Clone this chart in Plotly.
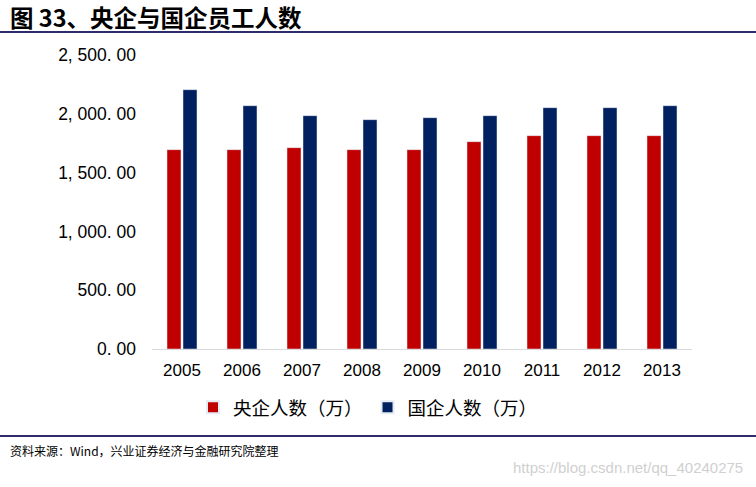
import plotly.graph_objects as go

years = ["2005", "2006", "2007", "2008", "2009", "2010", "2011", "2012", "2013"]
central_soe = [1695, 1695, 1712, 1695, 1695, 1763, 1814, 1814, 1814]
state_soe = [2205, 2069, 1984, 1950, 1967, 1984, 2052, 2052, 2069]
series_names = ["央企人数（万）", "国企人数（万）"]
ytick_vals = [0, 500, 1000, 1500, 2000, 2500]
ytick_text = ["0. 00", "500. 00", "1, 000. 00", "1, 500. 00", "2, 000. 00", "2, 500. 00"]

RED = "#C00000"
NAVY = "#002060"
LINE = "#2E2C6B"
CJK = "Noto Sans CJK SC"
LAT = "Liberation Sans"

fig = go.Figure()
fig.add_trace(go.Bar(x=years, y=central_soe, name=series_names[0], marker_color=RED))
fig.add_trace(go.Bar(x=years, y=state_soe, name=series_names[1], marker_color=NAVY))

fig.update_layout(
    width=756, height=487,
    margin=dict(l=152, r=64, t=55, b=138, autoexpand=False),
    paper_bgcolor="white", plot_bgcolor="white",
    barmode="group", bargap=0.467, bargroupgap=0.125,
    showlegend=True,
    legend=dict(orientation="h", x=0.4, xanchor="center", y=-0.2, yanchor="middle",
                font=dict(family=CJK, size=18.5, color="black"), itemsizing="constant",
                traceorder="normal"),
    font=dict(family=LAT, color="black"),
)
fig.update_yaxes(range=[0, 2500], tickvals=ytick_vals, ticktext=ytick_text,
                 showgrid=False, zeroline=False, showline=False,
                 tickfont=dict(family=LAT, size=17.5, color="black"),
                 ticklabelstandoff=15, fixedrange=True)
fig.update_xaxes(showline=True, linecolor="#D9D9D9", linewidth=1, showgrid=False,
                 tickfont=dict(family=LAT, size=17, color="black"),
                 ticks="", ticklabelstandoff=6)

# header / footer rules
fig.add_shape(type="line", xref="paper", yref="paper", x0=-152/540, x1=(756-152)/540,
              y0=1 + (55-32)/294, y1=1 + (55-32)/294, line=dict(color=LINE, width=2))
fig.add_shape(type="line", xref="paper", yref="paper", x0=-152/540, x1=(756-152)/540,
              y0=-(436-349)/294, y1=-(436-349)/294, line=dict(color=LINE, width=2))

fig.add_annotation(text="<b>图 33、央企与国企员工人数</b>", xref="paper", yref="paper",
                   x=-(152-8)/540, y=1 + (55-17)/294, xanchor="left", yanchor="middle",
                   showarrow=False, font=dict(family=CJK, size=23.5, color="black"))
fig.add_annotation(text="资料来源：Wind，兴业证券经济与金融研究院整理", xref="paper", yref="paper",
                   x=-(152-8)/540, y=-(450-349)/294, xanchor="left", yanchor="middle",
                   showarrow=False, font=dict(family=CJK, size=12, color="black"))
fig.add_annotation(text="https://blog.csdn.net/qq_40240275", xref="paper", yref="paper",
                   x=(745-152)/540, y=-(467-349)/294, xanchor="right", yanchor="middle",
                   showarrow=False, font=dict(family=LAT, size=15, color="#D0D0D0"))

fig.write_html("out.html")
